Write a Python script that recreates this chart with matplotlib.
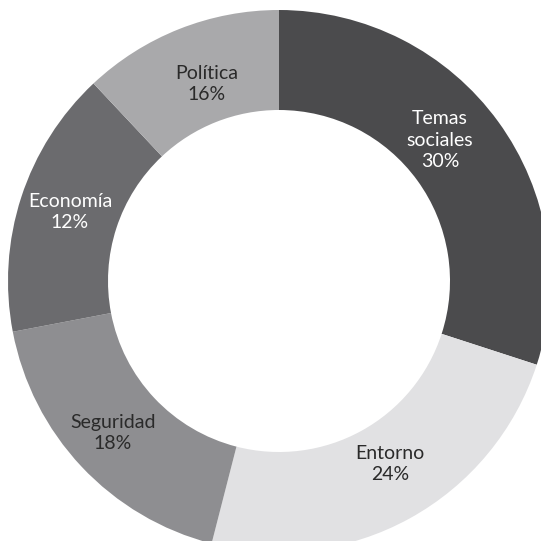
import matplotlib
matplotlib.use('Agg')
import matplotlib.pyplot as plt

# Data (slice sizes as drawn, label text as printed)
categories = ['Temas\nsociales', 'Entorno', 'Seguridad', 'Economía', 'Política']
values = [30, 24, 18, 16, 12]
pct_labels = ['30%', '24%', '18%', '12%', '16%']

colors = ['#4b4b4d', '#e1e1e3', '#8e8e91', '#6b6b6e', '#a9a9ab']
text_colors = ['#ffffff', '#2a2a2a', '#2a2a2a', '#ffffff', '#2a2a2a']
# label centres in pixel coords (from top-left)
label_pos = [(440, 140), (390, 464), (113, 433), (70, 212), (207, 84)]

plt.rcParams['font.family'] = ['Lato', 'DejaVu Sans']

fig = plt.figure(figsize=(5.41, 5.41), dpi=100)
ax = fig.add_axes([0, 0, 1, 1])

ax.pie(values, colors=colors, startangle=90, counterclock=False,
       center=(279, 541 - 281), radius=271,
       wedgeprops=dict(width=100, linewidth=0))

ax.set_xlim(0, 541)
ax.set_ylim(0, 541)
ax.set_aspect('equal')
ax.axis('off')

for cat, pct, (x, y), tc in zip(categories, pct_labels, label_pos, text_colors):
    ax.text(x, 541 - y, cat + '\n' + pct, ha='center', va='center',
            fontsize=14, color=tc, linespacing=1.35, fontweight='normal')

fig.savefig('out.png', dpi=100)
